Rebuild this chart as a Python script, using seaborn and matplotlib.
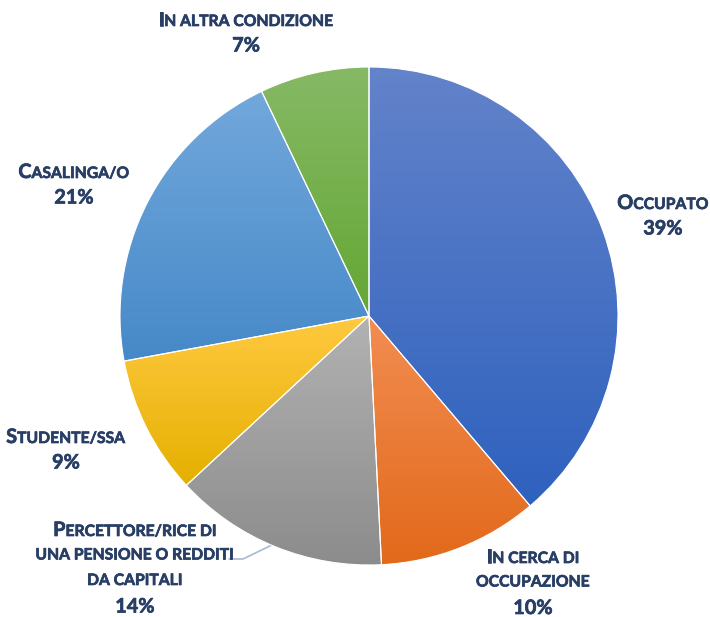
import matplotlib
matplotlib.use("Agg")
import matplotlib.pyplot as plt
import matplotlib.patheffects as pe
import numpy as np
import seaborn as sns
from matplotlib.colors import LinearSegmentedColormap
from matplotlib.offsetbox import TextArea, HPacker, AnnotationBbox

# data (share of respondents, clockwise from 12 o'clock)
categories = [
    "Occupato",
    "In cerca di occupazione",
    "Percettore/rice di una pensione o redditi da capitali",
    "Studente/ssa",
    "Casalinga/o",
    "In altra condizione",
]
shares = [38.8, 10.4, 13.9, 9.0, 20.8, 7.1]

# label lines as printed on the chart
label_lines = [
    ["Occupato"],
    ["In cerca di", "occupazione"],
    ["Percettore/rice di", "una pensione o redditi", "da capitali"],
    ["Studente/ssa"],
    ["Casalinga/o"],
    ["In altra condizione"],
]

# gradient colours per slice (top, bottom)
grads = [
    ("#6383CA", "#2E61BE"),
    ("#F28D52", "#E2691A"),
    ("#B2B2B2", "#8C8C8C"),
    ("#FFC941", "#E5B000"),
    ("#72A8DC", "#4689C8"),
    ("#86B966", "#64A733"),
]

# label centres in pixels (x, first line y), line step in px
label_pos = [
    (663, 203),
    (533, 557),
    (135, 530),
    (66, 437),
    (74, 172),
    (246, 20),
]
line_step = 25.5

W, H = 710, 617
CX, CY, R = 369, 316, 249
TEXT_COL = "#283E65"
BIG, SMALL = 14.3, 11.3

sns.set_theme(style="white")
plt.rcParams["font.family"] = ["Lato", "DejaVu Sans"]

fig = plt.figure(figsize=(W / 100, H / 100), dpi=100)
ax = fig.add_axes([0, 0, 1, 1])

wedges, _ = ax.pie(
    shares,
    startangle=90,
    counterclock=False,
    radius=1,
    colors=[g[0] for g in grads],
    wedgeprops=dict(edgecolor="white", linewidth=0.8),
)

# vertical gradient fill clipped to each wedge
for w, (c_top, c_bot) in zip(wedges, grads):
    ext = w.get_path().get_extents()
    cmap = LinearSegmentedColormap.from_list("g", [c_top, c_bot])
    grad = np.linspace(0, 1, 256).reshape(-1, 1)
    im = ax.imshow(
        grad,
        cmap=cmap,
        aspect="auto",
        extent=[ext.x0, ext.x1, ext.y0, ext.y1],
        origin="upper",
        zorder=w.get_zorder() + 0.1,
    )
    im.set_clip_path(w)
    w.set_facecolor("none")
    w.set_zorder(w.get_zorder() + 0.2)

# pie() and imshow() reset the limits, so map data units to pixels afterwards
ax.set_xlim(-CX / R, (W - CX) / R)
ax.set_ylim(-(H - CY) / R, CY / R)
ax.set_aspect("equal")
ax.axis("off")


def px2data(px, py):
    return (px - CX) / R, (CY - py) / R


def small_caps(line):
    # split into runs: lowercase -> small uppercase, everything else big
    runs = []
    for ch in line:
        size = SMALL if (ch.islower() or ch in " /") else BIG
        if runs and runs[-1][1] == size:
            runs[-1][0] += ch
        else:
            runs.append([ch, size])
    boxes = [
        TextArea(
            txt.upper(),
            textprops=dict(
                fontsize=sz,
                fontweight="bold",
                color=TEXT_COL,
                path_effects=[pe.withStroke(linewidth=0.5, foreground=TEXT_COL)],
            ),
        )
        for txt, sz in runs
    ]
    return HPacker(children=boxes, align="baseline", pad=0, sep=0)


for lines, share, (lx, ly) in zip(label_lines, shares, label_pos):
    all_lines = lines + [f"{round(share)}%"]
    for i, line in enumerate(all_lines):
        box = small_caps(line)
        ab = AnnotationBbox(
            box,
            px2data(lx, ly + i * line_step),
            frameon=False,
            box_alignment=(0.5, 0.5),
            pad=0,
        )
        ax.add_artist(ab)

# leader line for the pensioner label
lx0, ly0 = px2data(229, 559)
lx1, ly1 = px2data(243, 559)
lx2, ly2 = px2data(276, 543)
ax.plot([lx0, lx1, lx2], [ly0, ly1, ly2], color="#A9BAD3", lw=1.2, zorder=1)

fig.savefig("out.png", dpi=100)
